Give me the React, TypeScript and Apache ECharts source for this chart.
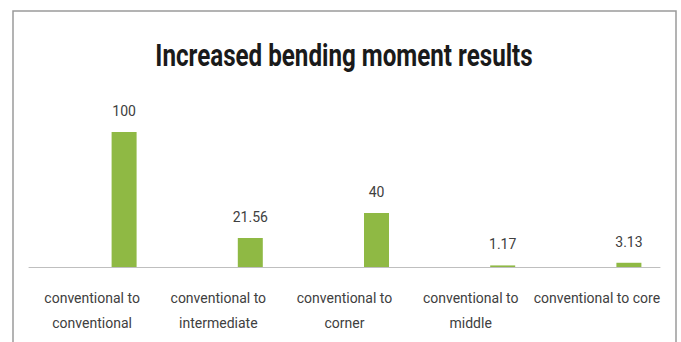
import React, { useEffect, useRef } from "react";
import * as echarts from "echarts";

// Category labels (line breaks as shown under the axis)
const categories: string[] = [
  "conventional to\nconventional",
  "conventional to\nintermediate",
  "conventional to\ncorner",
  "conventional to\nmiddle",
  "conventional to core",
];

// Increased bending moment (%)
const values: number[] = [100, 21.56, 40, 1.17, 3.13];

// Empty companion series that shifts the visible bars right of each category centre
const spacer: (number | string)[] = ["-", "-", "-", "-", "-"];

const chartTitle = "Increased bending moment results";

const FONT = "Roboto, 'Liberation Sans', sans-serif";

export default function App() {
  const ref = useRef<HTMLDivElement>(null);

  useEffect(() => {
    if (!ref.current) return;
    const chart = echarts.init(ref.current, null, { renderer: "svg" });
    chart.setOption({
      animation: false,
      backgroundColor: "#ffffff",
      graphic: [
        {
          type: "rect",
          shape: { x: 13, y: 11, width: 663, height: 345 },
          style: { fill: "none", stroke: "#9a9a9a", lineWidth: 1.5 },
          silent: true,
        },
        {
          type: "text",
          x: 344,
          y: 55,
          scaleX: 0.78,
          style: {
            text: chartTitle,
            align: "center",
            verticalAlign: "middle",
            fontSize: 31,
            fontWeight: "bold",
            fontFamily: FONT,
            fill: "#1a1a1a",
          },
        },
      ],
      grid: { left: 29, right: 21, top: 105, bottom: 75, containLabel: false },
      xAxis: {
        type: "category",
        data: categories,
        axisLine: { show: true, lineStyle: { color: "#bfbfbf", width: 1 } },
        axisTick: { show: false },
        axisLabel: {
          interval: 0,
          margin: 18,
          color: "#404040",
          fontSize: 14,
          lineHeight: 25,
          fontFamily: FONT,
        },
      },
      yAxis: {
        type: "value",
        min: 0,
        max: 120,
        show: false,
        splitLine: { show: false },
      },
      series: [
        {
          type: "bar",
          name: "spacer",
          data: spacer,
          barWidth: 25,
          barGap: "156%",
          silent: true,
        },
        {
          type: "bar",
          name: "Increased bending moment",
          data: values,
          barWidth: 25,
          itemStyle: { color: "#8fb944" },
          label: {
            show: true,
            position: "top",
            distance: 13,
            color: "#404040",
            fontSize: 14,
            lineHeight: 16,
            fontFamily: FONT,
          },
        },
      ],
    });
    return () => chart.dispose();
  }, []);

  return (
    <div
      ref={ref}
      style={{ position: "absolute", left: 0, top: 0, width: 681, height: 342 }}
    />
  );
}
